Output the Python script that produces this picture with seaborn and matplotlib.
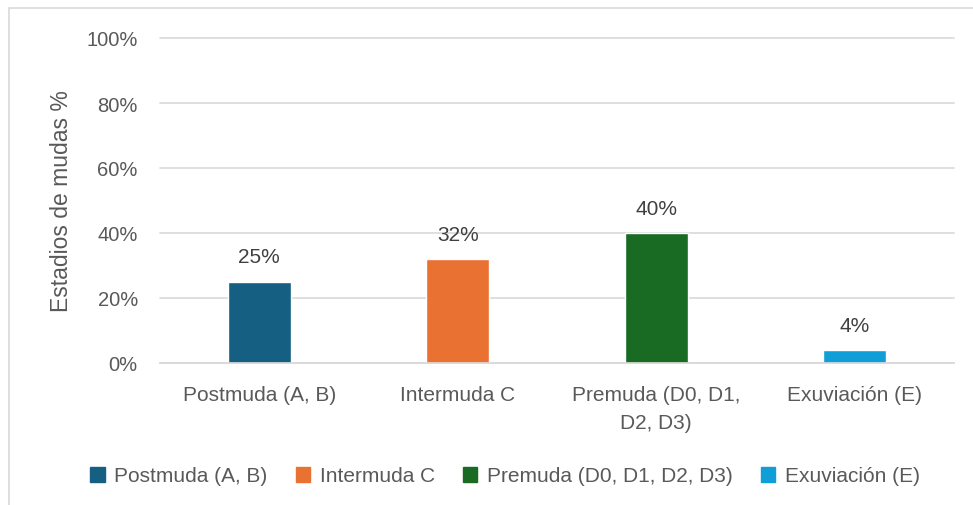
import matplotlib
matplotlib.use("Agg")
import matplotlib.pyplot as plt
import seaborn as sns
import pandas as pd
from matplotlib.patches import Rectangle
from matplotlib.ticker import PercentFormatter

categories = ["Postmuda (A, B)", "Intermuda C", "Premuda (D0, D1, D2, D3)", "Exuviación (E)"]
tick_labels = ["Postmuda (A, B)", "Intermuda C", "Premuda (D0, D1,\nD2, D3)", "Exuviación (E)"]
values = [25, 32, 40, 4]
colors = ["#156082", "#E97132", "#196B24", "#0F9ED5"]
y_ticks = [0, 20, 40, 60, 80, 100]

sns.set_theme(style="white")
plt.rcParams['font.family'] = ['Liberation Sans', 'DejaVu Sans']

df = pd.DataFrame({"cat": categories, "val": values})

fig = plt.figure(figsize=(9.73, 5.06), dpi=100)
fig.patches.append(Rectangle((9/973, -0.1), 1.2, 1 - 9/506 + 0.1, transform=fig.transFigure,
                             fill=False, edgecolor="#D9D9D9", linewidth=1.2))
ax = fig.add_axes([160/973, 1 - 364/506, (954 - 160)/973, (364 - 39)/506])

sns.barplot(data=df, x="cat", y="val", hue="cat", palette=colors, dodge=False,
            width=0.315, ax=ax, legend=False, saturation=1)

ax.set_ylim(0, 100)
ax.set_yticks(y_ticks)
ax.yaxis.set_major_formatter(PercentFormatter(100, decimals=0))
ax.grid(axis="y", color="#D9D9D9", linewidth=1.2)
for gl in ax.get_ygridlines():
    gl.set_clip_on(False)
ax.set_axisbelow(True)
for s in ["top", "right", "left"]:
    ax.spines[s].set_visible(False)
ax.spines["bottom"].set_color("#D9D9D9")
ax.spines["bottom"].set_linewidth(1.2)
ax.tick_params(axis="y", length=0, labelsize=14.5, labelcolor="#595959", pad=16)
ax.tick_params(axis="x", length=0, pad=16)
ax.set_xticks(range(len(categories)))
ax.set_xticklabels(tick_labels, fontsize=15, color="#595959", linespacing=1.6, va="top")
ax.set_xlabel("")
ax.set_ylabel("Estadios de mudas %", fontsize=16.5, color="#595959", labelpad=10)

for container in ax.containers:
    ax.bar_label(container, labels=[f"{v:.0f}%" for v in container.datavalues],
                 padding=11, fontsize=15, color="#404040")

handles = [Rectangle((0, 0), 1, 1, color=c) for c in colors]
fig.legend(handles, categories, loc="center", bbox_to_anchor=(0.519, 1 - 477/506), ncol=4,
           frameon=False, prop={"size": 15}, handlelength=0.7,
           handleheight=0.7, handletextpad=0.45, columnspacing=1.35, labelcolor="#595959")

fig.savefig("out.png", dpi=100, facecolor="white")
